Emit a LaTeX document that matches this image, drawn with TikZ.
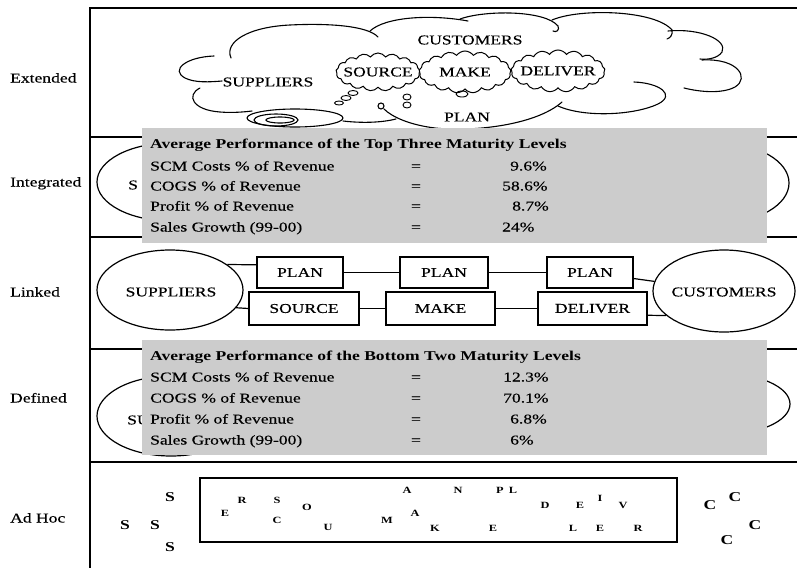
\documentclass[tikz,border=0pt]{standalone}
\usepackage{fontspec}
\setmainfont{Liberation Serif}[FakeStretch=1.3, UprightFeatures={FakeBold=0.35}]
\usetikzlibrary{shapes.geometric,shapes.symbols}

\begin{document}
\begin{tikzpicture}[x=1pt,y=-1pt,
  every node/.style={font=\fontsize{13.5}{16}\selectfont, inner sep=0pt},
  frameline/.style={line width=1.6pt},
  rowlabel/.style={anchor=base west},
  party/.style={ellipse, draw, line width=1.2pt, fill=white},
  stepbox/.style={draw, line width=1.4pt, fill=white},
  link/.style={line width=1.2pt},
  statpanel/.style={fill=black!20, minimum width=625pt, minimum height=115pt},
  stattitle/.style={anchor=base west, font=\fontsize{13.5}{16}\selectfont\bfseries},
  stat/.style={anchor=base west},
  eqsign/.style={anchor=base},
  cloudline/.style={line width=1.1pt, line cap=round},
  minicloud/.style={cloud, draw, fill=white, cloud puffs=17, cloud puff arc=110,
                    cloud ignores aspect, line width=1pt},
  bubble/.style={line width=0.9pt},
  scatterletter/.style={font=\fontsize{9.5}{10}\selectfont\bfseries},
  bigletter/.style={font=\fontsize{13.5}{16}\selectfont\bfseries}
]
\useasboundingbox (0,0) rectangle (797,568);

% ---------- frame and row separators ----------
\draw[frameline] (797,8) -- (90,8) -- (90,568);
\foreach \yy in {137,237,349,462}
  \draw[frameline] (90,\yy) -- (797,\yy);

% ---------- row labels ----------
\node[rowlabel] (lblext) at (10,82.5)  {Extended};
\node[rowlabel] (lblint) at (10,186.5) {Integrated};
\node[rowlabel] (lbllnk) at (10,296.5) {Linked};
\node[rowlabel] (lbldef) at (10,402.5) {Defined};
\node[rowlabel] (lbladh) at (10,522.5) {Ad Hoc};

% ---------- Extended: one big cloud ----------
\begin{scope}[cloudline]
  % top lobes
  \draw (231,58) .. controls (224,42) and (248,27) .. (290,25)
                 .. controls (330,23) and (368,26) .. (378,37);
  \draw (370,31) .. controls (385,17) and (430,14) .. (468,21);
  \draw (460,19) .. controls (485,10) and (545,10) .. (558,26)
                 .. controls (560,30) and (556,33) .. (553,31);
  \draw (552,20) .. controls (580,8) and (655,10) .. (672,30)
                 .. controls (673,35) and (670,38) .. (667,39);
  % right lobes
  \draw (668,31) .. controls (700,28) and (728,40) .. (722,52)
                 .. controls (718,58) and (708,60) .. (700,59);
  \draw (702,60) .. controls (738,58) and (750,78) .. (735,87)
                 .. controls (722,94) and (700,92) .. (684,88);
  \draw (634,82) .. controls (660,83) and (676,95) .. (658,104)
                 .. controls (635,115) and (585,118) .. (558,106);
  % bottom lobe under PLAN, ending in a small loop
  \draw (562,102) .. controls (535,126) and (470,132) .. (435,128)
                  .. controls (410,125) and (392,117) .. (384,109);
  \draw (381,106) circle[radius=3];
  \draw (343,121) .. controls (360,123) and (380,123) .. (396,119);
  % left lobes
  \draw (200,88) .. controls (186,95) and (192,110) .. (220,112)
                 .. controls (232,113) and (244,112) .. (252,111);
  \draw (214,56) .. controls (186,57) and (170,70) .. (185,78)
                 .. controls (195,83) and (210,82) .. (222,81);
  % flat oval with a scribble inside
  \draw (295,118) ellipse[x radius=48, y radius=9];
  \draw (276,120) ellipse[x radius=22, y radius=6];
  \draw (280,120) ellipse[x radius=14, y radius=3];
\end{scope}

\node (extsup)  at (268,82) {SUPPLIERS};
\node (extcust) at (470,40) {CUSTOMERS};
\node (extplan) at (467,117) {PLAN};

\node[minicloud, minimum width=84pt, minimum height=38pt] (srccloud) at (378,72) {};
\node[minicloud, minimum width=92pt, minimum height=42pt] (makecloud) at (465,72) {};
\node[minicloud, minimum width=94pt, minimum height=42pt] (delcloud) at (558,71) {};
\node (srctext)  at (srccloud)  {SOURCE};
\node (maketext) at (makecloud) {MAKE};
\node (deltext)  at (delcloud)  {DELIVER};

% small thought bubbles
\draw[bubble] (353,93) ellipse[x radius=5, y radius=2.5];
\draw[bubble] (346,98) ellipse[x radius=5, y radius=2.5];
\draw[bubble] (339,103) ellipse[x radius=4.5, y radius=2];
\draw[bubble] (407,97) ellipse[x radius=4, y radius=3];
\draw[bubble] (407,105) ellipse[x radius=4, y radius=3];
\draw[bubble] (462,94) ellipse[x radius=6, y radius=3];

% ---------- Integrated: partners behind the statistics panel ----------
\node[party, minimum width=148pt, minimum height=78pt] (intsup) at (171,182) {};
\node[anchor=west] (intsuptext) at (128,185) {S};
\node[party, minimum width=140pt, minimum height=80pt] (intcust) at (719,183) {};

\node[statpanel] (toppanel) at (454.5,185.5) {};
\node[stattitle] (toptitle) at (150,148.5) {Average Performance of the Top Three Maturity Levels};
\node[stat] (tkA) at (150,170.5) {SCM Costs \% of Revenue};
\node[stat] (tkB) at (150,190.5) {COGS \% of Revenue};
\node[stat] (tkC) at (150,210.5) {Profit \% of Revenue};
\node[stat] (tkD) at (150,231.5) {Sales Growth (99-00)};
\node[eqsign] (teA) at (416,170.5) {=};
\node[eqsign] (teB) at (416,190.5) {=};
\node[eqsign] (teC) at (416,210.5) {=};
\node[eqsign] (teD) at (416,231.5) {=};
\node[stat] (tvA) at (510,170.5) {9.6\%};
\node[stat] (tvB) at (502,190.5) {58.6\%};
\node[stat] (tvC) at (512,210.5) {8.7\%};
\node[stat] (tvD) at (502,231.5) {24\%};

% ---------- Linked ----------
\node[party, minimum width=146pt, minimum height=80pt] (sup) at (170,290) {};
\node (suptext) at (171,292) {SUPPLIERS};
\node[party, minimum width=142pt, minimum height=82pt] (cust) at (724,291) {};
\node (custtext) at (724,292) {CUSTOMERS};

\node[stepbox, minimum width=86pt,  minimum height=31pt] (plan1) at (300,272.5) {PLAN};
\node[stepbox, minimum width=110pt, minimum height=33pt] (src)   at (304,308.5) {SOURCE};
\node[stepbox, minimum width=88pt,  minimum height=31pt] (plan2) at (444,272.5) {PLAN};
\node[stepbox, minimum width=109pt, minimum height=33pt] (make)  at (440.5,308.5) {MAKE};
\node[stepbox, minimum width=86pt,  minimum height=31pt] (plan3) at (590,272.5) {PLAN};
\node[stepbox, minimum width=109pt, minimum height=33pt] (deliv) at (592.5,308.5) {DELIVER};

\draw[link] (sup.24) -- (plan1.170);
\draw[link] (sup.-15) -- (src.west);
\draw[link] (plan1) -- (plan2);
\draw[link] (plan2) -- (plan3);
\draw[link] (src) -- (make);
\draw[link] (make) -- (deliv);
\draw[link] (plan3) -- (cust);
\draw[link] (deliv.-7) -- (cust.203);

% ---------- Defined: partners behind the statistics panel ----------
\node[party, minimum width=148pt, minimum height=80pt] (defsup) at (171,416) {};
\node[anchor=west] (defsuptext) at (127,420) {SU};
\node[party, minimum width=140pt, minimum height=62pt] (defcust) at (720,404) {};

\node[statpanel] (botpanel) at (454.5,397.5) {};
\node[stattitle] (bottitle) at (150,360.5) {Average Performance of the Bottom Two Maturity Levels};
\node[stat] (bkA) at (150,381.5) {SCM Costs \% of Revenue};
\node[stat] (bkB) at (150,402.5) {COGS \% of Revenue};
\node[stat] (bkC) at (150,423.5) {Profit \% of Revenue};
\node[stat] (bkD) at (150,444.5) {Sales Growth (99-00)};
\node[eqsign] (beA) at (416,381.5) {=};
\node[eqsign] (beB) at (416,402.5) {=};
\node[eqsign] (beC) at (416,423.5) {=};
\node[eqsign] (beD) at (416,444.5) {=};
\node[stat] (bvA) at (503,381.5) {12.3\%};
\node[stat] (bvB) at (503,402.5) {70.1\%};
\node[stat] (bvC) at (510,423.5) {6.8\%};
\node[stat] (bvD) at (510,444.5) {6\%};

% ---------- Ad Hoc: scattered letters ----------
\node[draw, line width=1.6pt, minimum width=477pt, minimum height=64pt] (adhocbox) at (438.5,510) {};
\foreach \ch/\px/\py [count=\k] in {
    E/225/513, R/242/500, S/277/500, C/277/520, O/307/507, U/328/527,
    M/387/520, A/407/490, A/415/513, K/435/528, N/458/490, P/500/490,
    L/513/490, E/493/528, D/545/505, E/580/505, I/600/498, V/623/505,
    L/573/528, E/600/528, R/638/528}
  \node[scatterletter] (lt\k) at (\px,\py) {\ch};
\foreach \px/\py [count=\k] in {170/497, 125/525, 155/525, 170/547}
  \node[bigletter] (sl\k) at (\px,\py) {S};
\foreach \px/\py [count=\k] in {710/505, 735/497, 755/525, 727/540}
  \node[bigletter] (cl\k) at (\px,\py) {C};
\end{tikzpicture}
\end{document}
